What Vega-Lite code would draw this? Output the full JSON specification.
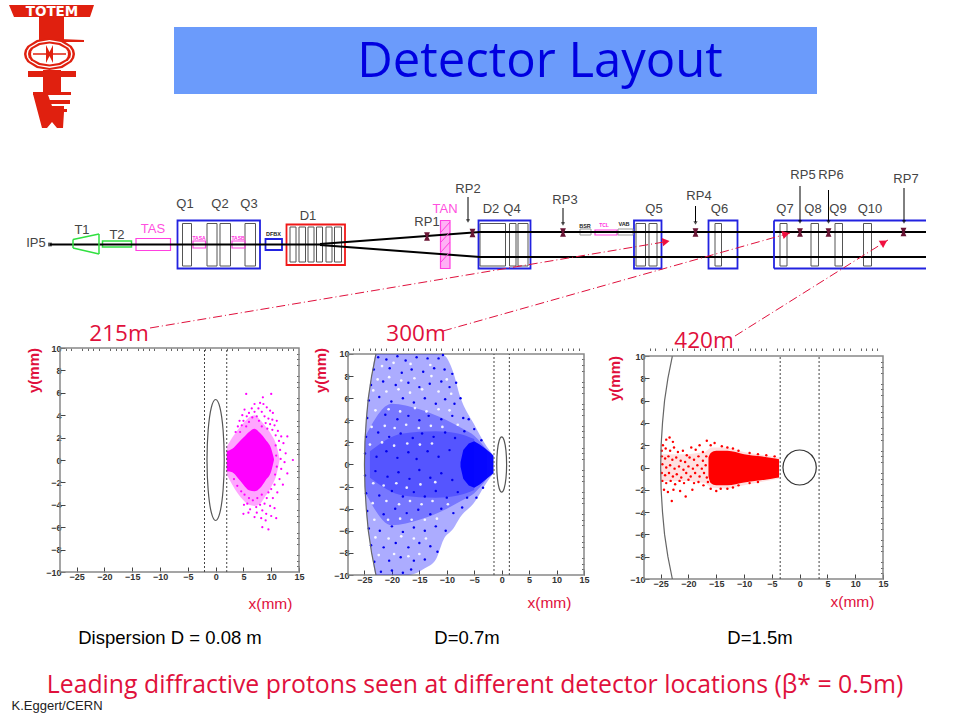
{"$schema":"https://vega.github.io/schema/vega-lite/v6.json","padding":0,"background":"white","spacing":3,"bounds":"flush","config":{"view":{"stroke":null},"font":"Liberation Sans"},
"vconcat":[
{"width":960,"height":345,"view":{"stroke":null},
"resolve":{"scale":{"strokeWidth":"independent"}},
"encoding":{"x":{"field":"x","type":"quantitative","axis":null,"scale":{"domain":[0,960],"nice":false,"zero":false}},"y":{"field":"y","type":"quantitative","axis":null,"scale":{"domain":[345,0],"nice":false,"zero":false}}},
"layer":[
{"data":{"values":[{"x":174,"x2":817,"y":27,"y2":94}]},"mark":{"type":"rect","fill":"#6b9bfb"},"encoding":{"x2":{"field":"x2"},"y2":{"field":"y2"}}},
{"data":{"values":[{"x":540,"y":62,"t":"Detector Layout"}]},"mark":{"type":"text","font":"Open Sans","fontSize":49,"fill":"#0000e0","align":"center","baseline":"middle"},"encoding":{"text":{"field":"t"}}},
{"data":{"values":[
{"p":"a","c":"r","x":9,"y":5,"y2":5},{"p":"a","c":"r","x":14,"y":5,"y2":17},{"p":"a","c":"r","x":90,"y":5,"y2":17},{"p":"a","c":"r","x":94,"y":5,"y2":5},
{"p":"b","c":"r","x":39,"y":17,"y2":40},{"p":"b","c":"r","x":64,"y":17,"y2":40},
{"p":"c","c":"r","x":60,"y":39,"y2":42},{"p":"c","c":"r","x":84,"y":40,"y2":42},
{"p":"d","c":"r","x":24,"y":54,"y2":54},{"p":"d","c":"r","x":24.8,"y":50,"y2":58},{"p":"d","c":"r","x":27.3,"y":46,"y2":62},{"p":"d","c":"r","x":36.8,"y":40,"y2":68},{"p":"d","c":"r","x":49.5,"y":38,"y2":70},{"p":"d","c":"r","x":62.3,"y":40,"y2":68},{"p":"d","c":"r","x":71.7,"y":46,"y2":62},{"p":"d","c":"r","x":74.2,"y":50,"y2":58},{"p":"d","c":"r","x":75,"y":54,"y2":54},
{"p":"e","c":"w","x":26.5,"y":54,"y2":54},{"p":"e","c":"w","x":27.2,"y":50.4,"y2":57.6},{"p":"e","c":"w","x":29.5,"y":47,"y2":61},{"p":"e","c":"w","x":38,"y":42,"y2":66},{"p":"e","c":"w","x":49.5,"y":40,"y2":68},{"p":"e","c":"w","x":61,"y":42,"y2":66},{"p":"e","c":"w","x":69.5,"y":47,"y2":61},{"p":"e","c":"w","x":71.8,"y":50.4,"y2":57.6},{"p":"e","c":"w","x":72.5,"y":54,"y2":54},
{"p":"f","c":"r","x":28,"y":54,"y2":54},{"p":"f","c":"r","x":28.6,"y":50.8,"y2":57.2},{"p":"f","c":"r","x":30.8,"y":47.8,"y2":60.2},{"p":"f","c":"r","x":38.8,"y":43.1,"y2":64.9},{"p":"f","c":"r","x":49.5,"y":41.5,"y2":66.5},{"p":"f","c":"r","x":60.2,"y":43.1,"y2":64.9},{"p":"f","c":"r","x":68.2,"y":47.8,"y2":60.2},{"p":"f","c":"r","x":70.4,"y":50.8,"y2":57.2},{"p":"f","c":"r","x":71,"y":54,"y2":54},
{"p":"g","c":"w","x":31,"y":54,"y2":54},{"p":"g","c":"w","x":31.5,"y":51.3,"y2":56.7},{"p":"g","c":"w","x":33,"y":48.8,"y2":59.2},{"p":"g","c":"w","x":40,"y":44.9,"y2":63.1},{"p":"g","c":"w","x":49.5,"y":43.5,"y2":64.5},{"p":"g","c":"w","x":59,"y":44.9,"y2":63.1},{"p":"g","c":"w","x":66,"y":48.8,"y2":59.2},{"p":"g","c":"w","x":67.5,"y":51.3,"y2":56.7},{"p":"g","c":"w","x":68,"y":54,"y2":54},
{"p":"h","c":"r","x":33,"y":53.3,"y2":54.8},{"p":"h","c":"r","x":66,"y":53.3,"y2":54.8},
{"p":"i","c":"r","x":46,"y":45,"y2":63},{"p":"i","c":"r","x":49.5,"y":52,"y2":56},{"p":"i","c":"r","x":53,"y":45,"y2":63},
{"p":"j","c":"r","x":28,"y":71,"y2":77},{"p":"j","c":"r","x":76,"y":71,"y2":77},
{"p":"k","c":"r","x":43,"y":70,"y2":93},{"p":"k","c":"r","x":61,"y":70,"y2":93},
{"p":"l","c":"r","x":33,"y":92,"y2":95},{"p":"l","c":"r","x":71,"y":92,"y2":95},
{"p":"m","c":"r","x":33,"y":92,"y2":94},{"p":"m","c":"r","x":42,"y":92,"y2":128},{"p":"m","c":"r","x":47,"y":92,"y2":128},{"p":"m","c":"r","x":52,"y":106,"y2":122},{"p":"m","c":"r","x":57,"y":106,"y2":128},{"p":"m","c":"r","x":63,"y":106,"y2":128},{"p":"m","c":"r","x":64,"y":106,"y2":112},
{"p":"n","c":"r","x":47,"y":100,"y2":104},{"p":"n","c":"r","x":70,"y":100,"y2":104},
{"p":"o","c":"r","x":47,"y":109,"y2":112},{"p":"o","c":"r","x":67,"y":109,"y2":112}
]},"mark":{"type":"area"},"encoding":{"y2":{"field":"y2"},"detail":{"field":"p"},"color":{"field":"c","legend":null,"scale":{"domain":["r","w"],"range":["#e0200f","#ffffff"]}}}},
{"data":{"values":[{"x":52,"y":11.5,"t":"TOTEM"}]},"mark":{"type":"text","font":"DejaVu Sans","fontSize":13.5,"fontWeight":"bold","fill":"white","align":"center","baseline":"middle"},"encoding":{"text":{"field":"t"}}},
{"data":{"values":[{"x":440.5,"x2":450,"y":220.5,"y2":268.5}]},"mark":{"type":"rect","fill":"#ffb0f5"},"encoding":{"x2":{"field":"x2"},"y2":{"field":"y2"}}},
{"data":{"values":[
{"k":"inner","x":182.5,"x2":191.5,"y":223.5,"y2":266},{"k":"inner","x":207,"x2":217,"y":223.5,"y2":266},{"k":"inner","x":220,"x2":230.5,"y":223.5,"y2":266},{"k":"inner","x":245,"x2":255.5,"y":223.5,"y2":266},
{"k":"inner","x":290,"x2":296,"y":227,"y2":262},{"k":"inner","x":299,"x2":305.5,"y":227,"y2":262},{"k":"inner","x":308,"x2":314,"y":227,"y2":262},{"k":"inner","x":316.5,"x2":322.5,"y":227,"y2":262},{"k":"inner","x":326,"x2":332,"y":227,"y2":262},{"k":"inner","x":334.5,"x2":341.5,"y":227,"y2":262},
{"k":"inner","x":480,"x2":505.5,"y":223.5,"y2":266},{"k":"inner","x":509.5,"x2":516,"y":223.5,"y2":266},{"k":"inner","x":518,"x2":528,"y":223.5,"y2":266},
{"k":"inner","x":636,"x2":645.5,"y":223.5,"y2":266},{"k":"inner","x":649,"x2":657,"y":223.5,"y2":266},{"k":"inner","x":715,"x2":721.5,"y":223.5,"y2":266},
{"k":"inner","x":780,"x2":787,"y":223.5,"y2":266},{"k":"inner","x":811,"x2":818.5,"y":223.5,"y2":266},{"k":"inner","x":835,"x2":842.5,"y":223.5,"y2":266},{"k":"inner","x":863.5,"x2":871.5,"y":223.5,"y2":266},
{"k":"blue","x":177.5,"x2":260,"y":220.5,"y2":268.5},{"k":"blue","x":265.5,"x2":282,"y":239,"y2":250},{"k":"blue","x":478.5,"x2":530.5,"y":220.5,"y2":268.5},{"k":"blue","x":634,"x2":661.5,"y":220.5,"y2":268.5},{"k":"blue","x":708.5,"x2":737.5,"y":220.5,"y2":268.5},
{"k":"red","x":286.5,"x2":345,"y":224.5,"y2":265},
{"k":"green","x":102.5,"x2":131.5,"y":241,"y2":247},
{"k":"magenta","x":136,"x2":170.5,"y":238.5,"y2":250.5},{"k":"magenta","x":193,"x2":205.5,"y":241,"y2":248},{"k":"magenta","x":232,"x2":245,"y":241,"y2":248},{"k":"magenta","x":440.5,"x2":450,"y":220.5,"y2":268.5},{"k":"magenta","x":595,"x2":617,"y":230,"y2":235},
{"k":"light","x":580,"x2":591,"y":229,"y2":235},{"k":"light","x":618,"x2":633,"y":229,"y2":235}
]},"mark":{"type":"rect","fillOpacity":0},"encoding":{"x2":{"field":"x2"},"y2":{"field":"y2"},"stroke":{"field":"k","legend":null,"scale":{"domain":["inner","blue","red","green","magenta","light","black"],"range":["#555555","#2222e0","#f01818","#30e040","#ff40e0","#999999","#000000"]}},"strokeWidth":{"field":"k","legend":null,"scale":{"type":"ordinal","domain":["inner","blue","red","green","magenta","light"],"range":[1,1.8,1.8,1.5,1.2,1]}}}},
{"data":{"values":[
{"k":"black","w":2,"x":50,"x2":322,"y":244.5,"y2":244.5},{"k":"black","w":2,"x":320,"x2":480,"y":244,"y2":232},{"k":"black","w":2,"x":320,"x2":480,"y":245,"y2":257},{"k":"black","w":2,"x":480,"x2":926,"y":232,"y2":232},{"k":"black","w":2,"x":480,"x2":926,"y":257,"y2":257},
{"k":"blue","w":1.8,"x":774,"x2":926,"y":220.5,"y2":220.5},{"k":"blue","w":1.8,"x":774,"x2":926,"y":268.5,"y2":268.5},{"k":"blue","w":1.8,"x":774,"x2":774,"y":220.5,"y2":268.5},
{"k":"green","w":1.5,"x":73,"x2":99,"y":239.5,"y2":234},{"k":"green","w":1.5,"x":99,"x2":99,"y":234,"y2":254},{"k":"green","w":1.5,"x":99,"x2":73,"y":254,"y2":248},{"k":"green","w":1.5,"x":73,"x2":73,"y":248,"y2":239.5},
{"k":"magenta","w":1,"x":441,"x2":450,"y":232,"y2":222},{"k":"magenta","w":1,"x":441,"x2":450,"y":242,"y2":232},{"k":"magenta","w":1,"x":441,"x2":450,"y":252,"y2":242},{"k":"magenta","w":1,"x":441,"x2":450,"y":262,"y2":252},
{"k":"black","w":1,"x":468,"x2":468,"y":197,"y2":220},{"k":"black","w":1,"x":563,"x2":563,"y":208,"y2":223},{"k":"black","w":1,"x":695.5,"x2":695.5,"y":206,"y2":222},{"k":"black","w":1,"x":800,"x2":800,"y":186,"y2":221},{"k":"black","w":1,"x":828.5,"x2":828.5,"y":190,"y2":221},{"k":"black","w":1,"x":904,"x2":904,"y":188,"y2":221}
]},"mark":{"type":"rule"},"encoding":{"x2":{"field":"x2"},"y2":{"field":"y2"},"strokeWidth":{"field":"w","scale":null},"stroke":{"field":"k","legend":null,"scale":{"domain":["inner","blue","red","green","magenta","light","black"],"range":["#555555","#2222e0","#f01818","#30e040","#ff40e0","#999999","#000000"]}}}},
{"data":{"values":[{"x":50,"y":244.5}]},"mark":{"type":"point","shape":"square","size":14,"filled":true,"color":"black"}},
{"data":{"values":[{"x":468,"y":221},{"x":563,"y":224},{"x":695.5,"y":223},{"x":800,"y":222},{"x":828.5,"y":222},{"x":904,"y":222}]},"mark":{"type":"point","shape":"triangle-down","size":18,"filled":true,"color":"black"}},
{"data":{"values":[{"x":427,"y":236.5},{"x":472.5,"y":233},{"x":563,"y":232.5},{"x":695.5,"y":232.5},{"x":800,"y":232.5},{"x":828.5,"y":232.5},{"x":903.5,"y":232}]},"mark":{"type":"point","shape":"M-0.7,-1L0.7,-1L0.25,0L0.7,1L-0.7,1L-0.25,0Z","size":70,"filled":true,"color":"#6a1535","opacity":1}},
{"data":{"values":[
{"x":36,"y":243,"t":"IP5"},{"x":82,"y":230,"t":"T1"},{"x":117,"y":235,"t":"T2"},{"x":185,"y":204,"t":"Q1"},{"x":220,"y":204,"t":"Q2"},{"x":249,"y":204,"t":"Q3"},{"x":308,"y":216,"t":"D1"},{"x":427,"y":222,"t":"RP1"},{"x":468,"y":189,"t":"RP2"},{"x":491,"y":209,"t":"D2"},{"x":512,"y":209,"t":"Q4"},{"x":565,"y":200,"t":"RP3"},{"x":654,"y":209,"t":"Q5"},{"x":699,"y":196,"t":"RP4"},{"x":719.5,"y":209,"t":"Q6"},{"x":785,"y":209,"t":"Q7"},{"x":813,"y":209,"t":"Q8"},{"x":838,"y":209,"t":"Q9"},{"x":870,"y":209,"t":"Q10"},{"x":803,"y":175,"t":"RP5"},{"x":831,"y":175,"t":"RP6"},{"x":906,"y":179,"t":"RP7"}
]},"mark":{"type":"text","align":"center","baseline":"middle","fontSize":13,"fill":"#444444"},"encoding":{"text":{"field":"t"}}},
{"data":{"values":[{"x":153,"y":229,"t":"TAS"},{"x":445,"y":209,"t":"TAN"}]},"mark":{"type":"text","align":"center","baseline":"middle","fontSize":13,"fill":"#ff50e0"},"encoding":{"text":{"field":"t"}}},
{"data":{"values":[{"x":273.5,"y":234,"t":"DFBX"},{"x":585,"y":226,"t":"BSR"},{"x":624,"y":224,"t":"VAB"}]},"mark":{"type":"text","align":"center","baseline":"middle","fontSize":5.5,"fontWeight":"bold","fill":"#222222"},"encoding":{"text":{"field":"t"}}},
{"data":{"values":[{"x":199,"y":238,"t":"TASA"},{"x":238,"y":238,"t":"TASB"},{"x":604,"y":225,"t":"TCL"}]},"mark":{"type":"text","align":"center","baseline":"middle","fontSize":5,"fontWeight":"bold","fill":"#ff30e0"},"encoding":{"text":{"field":"t"}}},
{"data":{"values":[{"r":"a","x":150,"x2":670,"y":328,"y2":241},{"r":"b","x":443,"x2":790,"y":331,"y2":233},{"r":"c","x":735,"x2":888,"y":336,"y2":240}]},"mark":{"type":"rule","strokeDash":[9,3,1,3],"strokeWidth":1,"color":"#e0103c"},"encoding":{"x2":{"field":"x2"},"y2":{"field":"y2"}}},
{"data":{"values":[{"x":666,"y":241.5,"a":-9.5},{"x":786,"y":234,"a":-15.8},{"x":884,"y":242.5,"a":-32}]},"mark":{"type":"point","shape":"triangle-right","size":70,"filled":true,"color":"#f01040","opacity":1},"encoding":{"angle":{"field":"a","type":"quantitative","scale":null}}},
{"data":{"values":[{"x":119,"y":334,"t":"215m"},{"x":416,"y":334,"t":"300m"},{"x":704,"y":341,"t":"420m"}]},"mark":{"type":"text","font":"Open Sans","fontSize":22.5,"fill":"#e0103c","align":"center","baseline":"middle"},"encoding":{"text":{"field":"t"}}}
]},
{"hconcat":[
{"width":60,"height":10,"data":{"values":[{}]},"mark":{"type":"point","opacity":0},"encoding":{}},
{"width":239,"height":224,"encoding":{"x":{"field":"x","type":"quantitative","axis":null,"scale":{"domain":[-28,15],"nice":false,"zero":false}},"y":{"field":"y","type":"quantitative","axis":null,"scale":{"domain":[-10,10],"nice":false,"zero":false}}},"resolve":{"axis":{"x":"independent","y":"independent"}},
"layer":[
{"data":{"values":[{"x":-28,"x2":15,"y":-10,"y2":10}]},"mark":{"type":"rect","fillOpacity":0,"stroke":"#888888","strokeWidth":1.5},"encoding":{"x2":{"field":"x2"},"y2":{"field":"y2"},
"x":{"field":"x","type":"quantitative","scale":{"domain":[-28,15],"nice":false,"zero":false},"axis":{"values":[-25,-20,-15,-10,-5,0,5,10,15],"domain":false,"grid":false,"title":"x(mm)","tickSize":-5,"tickColor":"#444444","labelFont":"Liberation Sans","labelFontSize":9,"labelFontWeight":"bold","labelColor":"#333333","labelPadding":5,"labelOverlap":false,"labelBound":false,"labelFlush":false,"titleFont":"Liberation Sans","titleFontSize":15.5,"titleFontWeight":"normal","titleColor":"#e0103c","titleX":210,"titleY":24,"titleAlign":"center"}},
"y":{"field":"y","type":"quantitative","scale":{"domain":[-10,10],"nice":false,"zero":false},"axis":{"values":[-10,-8,-6,-4,-2,0,2,4,6,8,10],"domain":false,"grid":false,"title":"y(mm)","tickSize":-5,"tickColor":"#444444","labelFont":"Liberation Sans","labelFontSize":9,"labelFontWeight":"bold","labelColor":"#333333","labelPadding":4,"labelOverlap":false,"labelBound":false,"labelFlush":false,"titleFont":"Liberation Sans","titleFontSize":15,"titleFontWeight":"bold","titleColor":"#e0103c","titleX":-19,"titleY":22,"titleAlign":"center"}}}},
{"data":{"values":[{"x":2,"y":-1.3,"y2":1.2},{"x":3,"y":-2.2,"y2":2},{"x":4,"y":-3,"y2":2.7},{"x":5,"y":-3.6,"y2":3.3},{"x":6,"y":-4,"y2":3.8},{"x":7,"y":-4.1,"y2":4},{"x":8,"y":-3.9,"y2":3.6},{"x":9,"y":-3.2,"y2":3},{"x":10,"y":-2.4,"y2":2.3},{"x":11,"y":-1.2,"y2":1.2},{"x":11.5,"y":0,"y2":0.1}]},"mark":{"type":"area","interpolate":"monotone","color":"#ff00ff","opacity":0.35},"encoding":{"y2":{"field":"y2"}}},
{"data":{"values":[{"x":2,"y":-1,"y2":0.8},{"x":3,"y":-1.1,"y2":1},{"x":4,"y":-1.6,"y2":1.5},{"x":5,"y":-2.2,"y2":2},{"x":6,"y":-2.7,"y2":2.5},{"x":7,"y":-2.8,"y2":2.8},{"x":8,"y":-2.5,"y2":2.4},{"x":9,"y":-1.8,"y2":1.8},{"x":10,"y":-1,"y2":1},{"x":10.5,"y":0,"y2":0.1}]},"mark":{"type":"area","interpolate":"monotone","color":"#ff00ff","opacity":1},"encoding":{"y2":{"field":"y2"}}},
{"data":{"values":[{"x":5.5,"y":5.9},{"x":10,"y":5.9},{"x":8.5,"y":5.6},{"x":8,"y":5.1},{"x":7,"y":5},{"x":8.6,"y":5},{"x":6.5,"y":4.6},{"x":7.7,"y":4.6},{"x":9.2,"y":4.7},{"x":5.2,"y":4.5},{"x":6,"y":4.2},{"x":7,"y":4.3},{"x":8.3,"y":4.3},{"x":9.8,"y":4.4},{"x":10.3,"y":4.2},{"x":4.8,"y":4},{"x":5.6,"y":3.9},{"x":6.6,"y":3.8},{"x":7.4,"y":3.9},{"x":8.8,"y":3.9},{"x":9.5,"y":3.7},{"x":10.2,"y":3.6},{"x":11,"y":3.5},{"x":4.3,"y":3.5},{"x":5,"y":3.5},{"x":6,"y":3.4},{"x":7.8,"y":3.5},{"x":9,"y":3.3},{"x":9.8,"y":3.2},{"x":10.6,"y":3.1},{"x":4,"y":3},{"x":4.7,"y":3.1},{"x":5.5,"y":3},{"x":8.3,"y":3},{"x":9.3,"y":2.8},{"x":10.2,"y":2.7},{"x":11.2,"y":2.6},{"x":3.6,"y":2.5},{"x":4.4,"y":2.5},{"x":11.8,"y":2.1},{"x":12.9,"y":2.1},{"x":10.8,"y":2.2},{"x":11.4,"y":1.7},{"x":12.2,"y":1.5},{"x":10.8,"y":1.3},{"x":11.6,"y":0.9},{"x":12.6,"y":0.6},{"x":10.9,"y":0.4},{"x":11.7,"y":0.1},{"x":13.9,"y":0},{"x":12.4,"y":-0.2},{"x":11,"y":-0.6},{"x":11.8,"y":-0.8},{"x":12.9,"y":-1.2},{"x":10.7,"y":-1.3},{"x":11.5,"y":-1.7},{"x":12.1,"y":-2.2},{"x":10.6,"y":-2.2},{"x":11.1,"y":-2.9},{"x":10,"y":-2.6},{"x":9.5,"y":-2.9},{"x":10.3,"y":-3.4},{"x":9.2,"y":-3.4},{"x":8.3,"y":-3.1},{"x":7.5,"y":-3.4},{"x":8.8,"y":-3.9},{"x":9.8,"y":-4.1},{"x":10.6,"y":-4.3},{"x":8,"y":-4},{"x":7.3,"y":-4.2},{"x":6.7,"y":-3.6},{"x":6,"y":-3.4},{"x":5.2,"y":-3.1},{"x":4.6,"y":-2.8},{"x":3.9,"y":-2.3},{"x":3.3,"y":-1.7},{"x":5.7,"y":-3.9},{"x":6.2,"y":-4.4},{"x":7.4,"y":-4.7},{"x":8.4,"y":-4.5},{"x":9.1,"y":-4.8},{"x":5.1,"y":-4},{"x":5.9,"y":-4.7},{"x":10.9,"y":-5.2},{"x":10,"y":-5},{"x":7,"y":-5.1},{"x":8.2,"y":-5.2},{"x":9,"y":-5.4},{"x":8.4,"y":-6},{"x":9.5,"y":-6.2},{"x":5,"y":-4.8}]},"mark":{"type":"circle","size":5,"color":"#ff00ff","opacity":1}},
{"data":{"values":[{"i":0,"x":1.55,"y":0},{"i":1,"x":1.34,"y":2.7},{"i":2,"x":0.78,"y":4.68},{"i":3,"x":0,"y":5.4},{"i":4,"x":-0.78,"y":4.68},{"i":5,"x":-1.34,"y":2.7},{"i":6,"x":-1.55,"y":0},{"i":7,"x":-1.34,"y":-2.7},{"i":8,"x":-0.78,"y":-4.68},{"i":9,"x":0,"y":-5.4},{"i":10,"x":0.78,"y":-4.68},{"i":11,"x":1.34,"y":-2.7}]},"mark":{"type":"line","interpolate":"cardinal-closed","color":"#555555","strokeWidth":1.2},"encoding":{"order":{"field":"i"}}},
{"data":{"values":[{"x":-2,"y":-10,"y2":10},{"x":2,"y":-10,"y2":10}]},"mark":{"type":"rule","strokeDash":[2,2],"color":"#444444","strokeWidth":1},"encoding":{"y2":{"field":"y2"},
"x":{"field":"x","type":"quantitative","scale":{"domain":[-28,15],"nice":false,"zero":false},"axis":{"values":[-27,-26,-24,-23,-22,-21,-19,-18,-17,-16,-14,-13,-12,-11,-9,-8,-7,-6,-4,-3,-2,-1,1,2,3,4,6,7,8,9,11,12,13,14],"domain":false,"grid":false,"labels":false,"title":null,"tickSize":-2.5,"tickColor":"#666666"}},
"y":{"field":"y","type":"quantitative","scale":{"domain":[-10,10],"nice":false,"zero":false},"axis":{"values":[-9.5,-9,-8.5,-7.5,-7,-6.5,-5.5,-5,-4.5,-3.5,-3,-2.5,-1.5,-1,-0.5,0.5,1,1.5,2.5,3,3.5,4.5,5,5.5,6.5,7,7.5,8.5,9,9.5],"domain":false,"grid":false,"labels":false,"title":null,"tickSize":-2.5,"tickColor":"#666666"}}}}
]},
{"width":49,"height":10,"data":{"values":[{}]},"mark":{"type":"point","opacity":0},"encoding":{}},
{"width":236,"height":227,"encoding":{"x":{"field":"x","type":"quantitative","axis":null,"scale":{"domain":[-28,15],"nice":false,"zero":false}},"y":{"field":"y","type":"quantitative","axis":null,"scale":{"domain":[-10,10.54],"nice":false,"zero":false}}},"resolve":{"axis":{"x":"independent","y":"independent"}},
"layer":[
{"data":{"values":[{"x":-28,"x2":15,"y":-10,"y2":10}]},"mark":{"type":"rect","fillOpacity":0,"stroke":"#888888","strokeWidth":1.5},"encoding":{"x2":{"field":"x2"},"y2":{"field":"y2"},
"x":{"field":"x","type":"quantitative","scale":{"domain":[-28,15],"nice":false,"zero":false},"axis":{"values":[-25,-20,-15,-10,-5,0,5,10,15],"domain":false,"grid":false,"title":"x(mm)","tickSize":-5,"tickColor":"#444444","labelFont":"Liberation Sans","labelFontSize":9,"labelFontWeight":"bold","labelColor":"#333333","labelPadding":5,"labelOverlap":false,"labelBound":false,"labelFlush":false,"titleFont":"Liberation Sans","titleFontSize":15.5,"titleFontWeight":"normal","titleColor":"#e0103c","titleX":201,"titleY":20,"titleAlign":"center"}},
"y":{"field":"y","type":"quantitative","scale":{"domain":[-10,10.54],"nice":false,"zero":false},"axis":{"values":[-10,-8,-6,-4,-2,0,2,4,6,8,10],"domain":false,"grid":false,"title":"y(mm)","tickSize":-5,"tickColor":"#444444","labelFont":"Liberation Sans","labelFontSize":9,"labelFontWeight":"bold","labelColor":"#333333","labelPadding":4,"labelOverlap":false,"labelBound":false,"labelFlush":false,"titleFont":"Liberation Sans","titleFontSize":15,"titleFontWeight":"bold","titleColor":"#e0103c","titleX":-20,"titleY":22,"titleAlign":"center"}}}},
{"data":{"values":[
{"b":"a","x":-24.9,"y":-2,"y2":2},{"b":"a","x":-24.7,"y":-4,"y2":4},{"b":"a","x":-24.3,"y":-6,"y2":6},{"b":"a","x":-23.7,"y":-8,"y2":8},{"b":"a","x":-22.9,"y":-10,"y2":10},{"b":"a","x":-17,"y":-10,"y2":10},{"b":"a","x":-14,"y":-9.4,"y2":10},{"b":"a","x":-12,"y":-8.6,"y2":10},{"b":"a","x":-10.6,"y":-6.8,"y2":9.9},{"b":"a","x":-8.8,"y":-5.8,"y2":8.3},{"b":"a","x":-7.6,"y":-4.8,"y2":6.2},{"b":"a","x":-5.1,"y":-3.5,"y2":3.7},{"b":"a","x":-2.7,"y":-1.6,"y2":1.6},{"b":"a","x":-1.5,"y":-0.8,"y2":0.8},
{"b":"b","x":-24.9,"y":-2.5,"y2":2.5},{"b":"b","x":-20,"y":-5.5,"y2":5.5},{"b":"b","x":-15,"y":-5,"y2":5},{"b":"b","x":-10,"y":-4,"y2":4},{"b":"b","x":-7,"y":-3.2,"y2":3.2},{"b":"b","x":-5,"y":-2.6,"y2":2.6},{"b":"b","x":-2.7,"y":-1.3,"y2":1.3},
{"b":"c","x":-24,"y":-1.2,"y2":1.2},{"b":"c","x":-18,"y":-2.8,"y2":2.8},{"b":"c","x":-12,"y":-3,"y2":3},{"b":"c","x":-8,"y":-2.8,"y2":2.8},{"b":"c","x":-5,"y":-2.3,"y2":2.3}
]},"mark":{"type":"area","interpolate":"monotone","color":"#1a1aff","opacity":0.36},"encoding":{"y2":{"field":"y2"},"detail":{"field":"b"}}},
{"data":{"values":[{"x":-7.5,"y":-0.2,"y2":0.2},{"x":-7,"y":-1.3,"y2":1.3},{"x":-6,"y":-1.9,"y2":1.9},{"x":-5,"y":-2.1,"y2":2.1},{"x":-4,"y":-1.8,"y2":1.8},{"x":-3,"y":-1.4,"y2":1.45},{"x":-2,"y":-1,"y2":1.05},{"x":-1.5,"y":-0.8,"y2":0.8}]},"mark":{"type":"area","color":"#0000ff","opacity":0.95},"encoding":{"y2":{"field":"y2"}}},
{"data":{"values":[{"x":-21.8,"y":8.9},{"x":-19.7,"y":9.2},{"x":-16.6,"y":9.1},{"x":-13,"y":9},{"x":-22.6,"y":7.7},{"x":-20.5,"y":7.9},{"x":-18.3,"y":7.6},{"x":-15.9,"y":7.8},{"x":-12.8,"y":8},{"x":-10,"y":7.7},{"x":-23.4,"y":6.7},{"x":-21,"y":6.6},{"x":-18.8,"y":6.8},{"x":-16.7,"y":6.5},{"x":-14.5,"y":6.8},{"x":-11.5,"y":6.6},{"x":-9.2,"y":6.4},{"x":-23,"y":4.9},{"x":-20.6,"y":5},{"x":-18.5,"y":4.8},{"x":-15.8,"y":5.1},{"x":-13.7,"y":4.8},{"x":-11.5,"y":5},{"x":-9.5,"y":4.9},{"x":-23.7,"y":3.4},{"x":-21.3,"y":3.5},{"x":-19.5,"y":3.3},{"x":-17.4,"y":3.6},{"x":-15.1,"y":3.3},{"x":-12.9,"y":3.5},{"x":-10.8,"y":3.4},{"x":-8,"y":3.6},{"x":-24,"y":1.8},{"x":-21.8,"y":2},{"x":-19.6,"y":1.7},{"x":-17.2,"y":1.9},{"x":-14.9,"y":1.8},{"x":-12.7,"y":1.9},{"x":-23.4,"y":-1.7},{"x":-21.5,"y":-1.9},{"x":-19.2,"y":-1.7},{"x":-17.3,"y":-2.1},{"x":-14.8,"y":-1.8},{"x":-12.1,"y":-1.6},{"x":-23.5,"y":-3.5},{"x":-21,"y":-3.3},{"x":-18.7,"y":-3.6},{"x":-16.7,"y":-3.3},{"x":-14.6,"y":-3.6},{"x":-12.6,"y":-3.3},{"x":-9.8,"y":-3.6},{"x":-23.2,"y":-5},{"x":-20.7,"y":-5},{"x":-18.5,"y":-4.9},{"x":-16.4,"y":-5},{"x":-14,"y":-5},{"x":-11.8,"y":-4.9},{"x":-23,"y":-6.6},{"x":-20.6,"y":-6.7},{"x":-18.3,"y":-6.5},{"x":-16,"y":-6.7},{"x":-13.8,"y":-6.7},{"x":-22.4,"y":-8.2},{"x":-19.6,"y":-8.1},{"x":-17,"y":-8.3},{"x":-15,"y":-8.1}]},"mark":{"type":"circle","size":7,"color":"#ffffff","opacity":0.9}},
{"data":{"values":[{"x":-22.5,"y":9.7},{"x":-21,"y":9.5},{"x":-19,"y":9.8},{"x":-17.5,"y":9.4},{"x":-15.5,"y":9.7},{"x":-13.5,"y":9.6},{"x":-11.5,"y":9.6},{"x":-10.7,"y":9.9},{"x":-23.3,"y":8.6},{"x":-20.4,"y":8.7},{"x":-18.2,"y":8.3},{"x":-16.4,"y":8.6},{"x":-14.3,"y":8.4},{"x":-12.3,"y":8.7},{"x":-10.4,"y":8.6},{"x":-9,"y":8.2},{"x":-23.8,"y":7.2},{"x":-21.6,"y":7.5},{"x":-19.3,"y":7.2},{"x":-17,"y":7.4},{"x":-15,"y":7},{"x":-13.1,"y":7.3},{"x":-11,"y":7.5},{"x":-9.5,"y":7},{"x":-8.3,"y":7.4},{"x":-24.2,"y":5.8},{"x":-22.3,"y":6.1},{"x":-20.1,"y":5.7},{"x":-18,"y":6},{"x":-16,"y":5.6},{"x":-14,"y":6},{"x":-12,"y":5.5},{"x":-10.3,"y":5.9},{"x":-8.6,"y":5.5},{"x":-7.5,"y":6},{"x":-24.5,"y":4.2},{"x":-21.2,"y":4.5},{"x":-19,"y":4.1},{"x":-17,"y":4.4},{"x":-15,"y":4},{"x":-13.3,"y":4.4},{"x":-11,"y":4.1},{"x":-9,"y":4.4},{"x":-7,"y":4.2},{"x":-6,"y":4.1},{"x":-24.7,"y":2.5},{"x":-22.5,"y":2.9},{"x":-20.5,"y":2.5},{"x":-18.4,"y":2.8},{"x":-16.2,"y":2.4},{"x":-14.5,"y":2.8},{"x":-12.4,"y":2.5},{"x":-10.3,"y":2.9},{"x":-8.5,"y":2.4},{"x":-6.8,"y":3},{"x":-5,"y":3.2},{"x":-3.7,"y":2.2},{"x":-24.9,"y":1},{"x":-22.8,"y":0.7},{"x":-21,"y":1.2},{"x":-19,"y":0.6},{"x":-17,"y":1.1},{"x":-15.5,"y":0.5},{"x":-13.5,"y":1.2},{"x":-11.5,"y":0.7},{"x":-9.5,"y":1.3},{"x":-24.9,"y":-1},{"x":-23,"y":-0.6},{"x":-20.8,"y":-1.1},{"x":-18.8,"y":-0.7},{"x":-16.8,"y":-1.3},{"x":-15,"y":-0.5},{"x":-13,"y":-1.2},{"x":-11,"y":-0.8},{"x":-9,"y":-1.4},{"x":-24.7,"y":-2.6},{"x":-22.3,"y":-2.8},{"x":-20,"y":-2.4},{"x":-18,"y":-2.9},{"x":-16,"y":-2.5},{"x":-14,"y":-2.9},{"x":-12,"y":-2.4},{"x":-10,"y":-3},{"x":-8,"y":-2.5},{"x":-6.3,"y":-3},{"x":-4.6,"y":-3},{"x":-3.4,"y":-2.1},{"x":-24.5,"y":-4.2},{"x":-21.5,"y":-4.5},{"x":-19.4,"y":-4},{"x":-17.3,"y":-4.4},{"x":-15.2,"y":-4.1},{"x":-13,"y":-4.5},{"x":-11,"y":-4},{"x":-8.8,"y":-4.4},{"x":-7.2,"y":-3.9},{"x":-24.2,"y":-5.8},{"x":-22.2,"y":-6},{"x":-20,"y":-5.6},{"x":-18,"y":-6.1},{"x":-16,"y":-5.7},{"x":-14,"y":-6},{"x":-12,"y":-5.6},{"x":-10.2,"y":-6},{"x":-23.8,"y":-7.3},{"x":-21.5,"y":-7.5},{"x":-19.3,"y":-7.1},{"x":-17,"y":-7.5},{"x":-15,"y":-7.1},{"x":-13,"y":-7.4},{"x":-11.7,"y":-7.9},{"x":-23.2,"y":-8.8},{"x":-20.5,"y":-8.7},{"x":-18.4,"y":-8.4},{"x":-16,"y":-8.7},{"x":-14,"y":-8.6},{"x":-22,"y":-9.7},{"x":-20,"y":-9.6},{"x":-18,"y":-9.8},{"x":-16.5,"y":-9.5}]},"mark":{"type":"circle","size":6,"color":"#0000ee","opacity":1}},
{"data":{"values":[{"i":0,"x":-22.9,"y":-10},{"i":1,"x":-23.7,"y":-8},{"i":2,"x":-24.3,"y":-6},{"i":3,"x":-24.67,"y":-4},{"i":4,"x":-24.92,"y":-2},{"i":5,"x":-25,"y":0},{"i":6,"x":-24.92,"y":2},{"i":7,"x":-24.67,"y":4},{"i":8,"x":-24.3,"y":6},{"i":9,"x":-23.7,"y":8},{"i":10,"x":-22.9,"y":10}]},"mark":{"type":"line","color":"#666666","strokeWidth":1.2},"encoding":{"order":{"field":"i"}}},
{"data":{"values":[{"i":0,"x":0.9,"y":0},{"i":1,"x":0.78,"y":1.25},{"i":2,"x":0.45,"y":2.17},{"i":3,"x":0,"y":2.5},{"i":4,"x":-0.45,"y":2.17},{"i":5,"x":-0.78,"y":1.25},{"i":6,"x":-0.9,"y":0},{"i":7,"x":-0.78,"y":-1.25},{"i":8,"x":-0.45,"y":-2.17},{"i":9,"x":0,"y":-2.5},{"i":10,"x":0.45,"y":-2.17},{"i":11,"x":0.78,"y":-1.25}]},"mark":{"type":"line","interpolate":"cardinal-closed","color":"#555555","strokeWidth":1.2},"encoding":{"order":{"field":"i"}}},
{"data":{"values":[{"x":-1.4,"y":-10,"y2":10},{"x":1.4,"y":-10,"y2":10}]},"mark":{"type":"rule","strokeDash":[2,2],"color":"#444444","strokeWidth":1},"encoding":{"y2":{"field":"y2"},
"x":{"field":"x","type":"quantitative","scale":{"domain":[-28,15],"nice":false,"zero":false},"axis":{"values":[-27,-26,-24,-23,-22,-21,-19,-18,-17,-16,-14,-13,-12,-11,-9,-8,-7,-6,-4,-3,-2,-1,1,2,3,4,6,7,8,9,11,12,13,14],"domain":false,"grid":false,"labels":false,"title":null,"tickSize":-2.5,"tickColor":"#666666"}},
"y":{"field":"y","type":"quantitative","scale":{"domain":[-10,10.54],"nice":false,"zero":false},"axis":{"values":[-9.5,-9,-8.5,-7.5,-7,-6.5,-5.5,-5,-4.5,-3.5,-3,-2.5,-1.5,-1,-0.5,0.5,1,1.5,2.5,3,3.5,4.5,5,5.5,6.5,7,7.5,8.5,9,9.5],"domain":false,"grid":false,"labels":false,"title":null,"tickSize":-2.5,"tickColor":"#666666"}}}}
]},
{"width":60,"height":10,"data":{"values":[{}]},"mark":{"type":"point","opacity":0},"encoding":{}},
{"width":239,"height":231,"encoding":{"x":{"field":"x","type":"quantitative","axis":null,"scale":{"domain":[-28,15],"nice":false,"zero":false}},"y":{"field":"y","type":"quantitative","axis":null,"scale":{"domain":[-10,10.72],"nice":false,"zero":false}}},"resolve":{"axis":{"x":"independent","y":"independent"}},
"layer":[
{"data":{"values":[{"x":-28,"x2":15,"y":-10,"y2":10}]},"mark":{"type":"rect","fillOpacity":0,"stroke":"#888888","strokeWidth":1.5},"encoding":{"x2":{"field":"x2"},"y2":{"field":"y2"},
"x":{"field":"x","type":"quantitative","scale":{"domain":[-28,15],"nice":false,"zero":false},"axis":{"values":[-25,-20,-15,-10,-5,0,5,10,15],"domain":false,"grid":false,"title":"x(mm)","tickSize":-5,"tickColor":"#444444","labelFont":"Liberation Sans","labelFontSize":9,"labelFontWeight":"bold","labelColor":"#333333","labelPadding":5,"labelOverlap":false,"labelBound":false,"labelFlush":false,"titleFont":"Liberation Sans","titleFontSize":15.5,"titleFontWeight":"normal","titleColor":"#e0103c","titleX":208,"titleY":15,"titleAlign":"center"}},
"y":{"field":"y","type":"quantitative","scale":{"domain":[-10,10.72],"nice":false,"zero":false},"axis":{"values":[-10,-8,-6,-4,-2,0,2,4,6,8,10],"domain":false,"grid":false,"title":"y(mm)","tickSize":-5,"tickColor":"#444444","labelFont":"Liberation Sans","labelFontSize":9,"labelFontWeight":"bold","labelColor":"#333333","labelPadding":4,"labelOverlap":false,"labelBound":false,"labelFlush":false,"titleFont":"Liberation Sans","titleFontSize":15,"titleFontWeight":"bold","titleColor":"#e0103c","titleX":-22,"titleY":30,"titleAlign":"center"}}}},
{"data":{"values":[{"x":-25,"y":-1.2,"y2":1.2},{"x":-20,"y":-1.2,"y2":1.2},{"x":-17,"y":-1.4,"y2":1.4},{"x":-16,"y":-1.8,"y2":1.8},{"x":-13,"y":-1.9,"y2":1.8},{"x":-10,"y":-1.6,"y2":1.4},{"x":-7,"y":-1.3,"y2":1.15},{"x":-3.7,"y":-1,"y2":0.9}]},"mark":{"type":"area","color":"#ff0000","opacity":0.12},"encoding":{"y2":{"field":"y2"}}},
{"data":{"values":[{"x":-16.4,"y":-0.8,"y2":0.9},{"x":-16,"y":-1.4,"y2":1.3},{"x":-15,"y":-1.6,"y2":1.5},{"x":-13,"y":-1.6,"y2":1.5},{"x":-10,"y":-1.35,"y2":1.2},{"x":-7,"y":-1.15,"y2":1},{"x":-5,"y":-1,"y2":0.85},{"x":-3.7,"y":-0.9,"y2":0.75}]},"mark":{"type":"area","interpolate":"monotone","color":"#ff0000","opacity":1},"encoding":{"y2":{"field":"y2"}}},
{"data":{"values":[{"x":-24.6,"y":2},{"x":-24,"y":2.5},{"x":-23.4,"y":2.7},{"x":-22.8,"y":2.3},{"x":-24.8,"y":1.5},{"x":-24.1,"y":1.7},{"x":-23.3,"y":1.5},{"x":-22.6,"y":1.8},{"x":-21.9,"y":1.4},{"x":-21,"y":1.5},{"x":-20.3,"y":1.1},{"x":-19.5,"y":1.8},{"x":-18.7,"y":1.6},{"x":-18,"y":2},{"x":-17.4,"y":1.4},{"x":-16.7,"y":2.4},{"x":-16,"y":2},{"x":-15.3,"y":2.2},{"x":-14,"y":1.9},{"x":-13,"y":1.8},{"x":-12,"y":1.7},{"x":-11,"y":1.5},{"x":-24.8,"y":1},{"x":-24.2,"y":0.8},{"x":-23.6,"y":1},{"x":-22.9,"y":0.7},{"x":-22.2,"y":0.9},{"x":-21.4,"y":0.6},{"x":-20.6,"y":0.5},{"x":-19.8,"y":0.9},{"x":-19,"y":0.7},{"x":-18.2,"y":1},{"x":-17.4,"y":0.6},{"x":-16.8,"y":1},{"x":-24.7,"y":0.3},{"x":-24,"y":0},{"x":-23.3,"y":0.2},{"x":-22.5,"y":-0.1},{"x":-21.7,"y":0.1},{"x":-20.9,"y":-0.2},{"x":-20,"y":0.1},{"x":-19.2,"y":-0.1},{"x":-18.4,"y":0.2},{"x":-17.6,"y":-0.1},{"x":-16.9,"y":0.2},{"x":-24.8,"y":-0.5},{"x":-24.2,"y":-0.7},{"x":-23.5,"y":-0.5},{"x":-22.8,"y":-0.8},{"x":-22.1,"y":-0.6},{"x":-21.3,"y":-0.9},{"x":-20.4,"y":-0.5},{"x":-19.6,"y":-0.8},{"x":-18.8,"y":-0.5},{"x":-18,"y":-0.8},{"x":-17.2,"y":-0.5},{"x":-16.7,"y":-0.9},{"x":-24.7,"y":-1.2},{"x":-24,"y":-1.4},{"x":-23.2,"y":-1.2},{"x":-22.4,"y":-1.5},{"x":-21.6,"y":-1.2},{"x":-20.8,"y":-1.4},{"x":-20,"y":-1.1},{"x":-19,"y":-1.4},{"x":-18.2,"y":-1.3},{"x":-17.3,"y":-1.6},{"x":-16.5,"y":-1.3},{"x":-24.4,"y":-2},{"x":-23.7,"y":-2.2},{"x":-22.7,"y":-2},{"x":-21.5,"y":-2.1},{"x":-20.5,"y":-2.6},{"x":-19.3,"y":-2},{"x":-16,"y":-1.9},{"x":-15,"y":-2.1},{"x":-14.2,"y":-1.9},{"x":-13,"y":-1.9},{"x":-12,"y":-1.8},{"x":-11,"y":-1.6},{"x":-9,"y":-1.4},{"x":-7.5,"y":-1.3},{"x":-23,"y":-3},{"x":-9,"y":1.3},{"x":-7.5,"y":1.2},{"x":-6,"y":1.1},{"x":-4.5,"y":1}]},"mark":{"type":"circle","size":6,"color":"#ff0000","opacity":1}},
{"data":{"values":[{"i":0,"x":-22.9,"y":-10},{"i":1,"x":-23.7,"y":-8},{"i":2,"x":-24.3,"y":-6},{"i":3,"x":-24.67,"y":-4},{"i":4,"x":-24.92,"y":-2},{"i":5,"x":-25,"y":0},{"i":6,"x":-24.92,"y":2},{"i":7,"x":-24.67,"y":4},{"i":8,"x":-24.3,"y":6},{"i":9,"x":-23.7,"y":8},{"i":10,"x":-22.9,"y":10}]},"mark":{"type":"line","color":"#666666","strokeWidth":1.2},"encoding":{"order":{"field":"i"}}},
{"data":{"values":[{"i":0,"x":3,"y":0},{"i":1,"x":2.6,"y":0.79},{"i":2,"x":1.5,"y":1.36},{"i":3,"x":0,"y":1.57},{"i":4,"x":-1.5,"y":1.36},{"i":5,"x":-2.6,"y":0.79},{"i":6,"x":-3,"y":0},{"i":7,"x":-2.6,"y":-0.79},{"i":8,"x":-1.5,"y":-1.36},{"i":9,"x":0,"y":-1.57},{"i":10,"x":1.5,"y":-1.36},{"i":11,"x":2.6,"y":-0.79}]},"mark":{"type":"line","interpolate":"cardinal-closed","color":"#333333","strokeWidth":1.2},"encoding":{"order":{"field":"i"}}},
{"data":{"values":[{"x":-3.5,"y":-10,"y2":10},{"x":3.5,"y":-10,"y2":10}]},"mark":{"type":"rule","strokeDash":[2,2],"color":"#444444","strokeWidth":1},"encoding":{"y2":{"field":"y2"},
"x":{"field":"x","type":"quantitative","scale":{"domain":[-28,15],"nice":false,"zero":false},"axis":{"values":[-27,-26,-24,-23,-22,-21,-19,-18,-17,-16,-14,-13,-12,-11,-9,-8,-7,-6,-4,-3,-2,-1,1,2,3,4,6,7,8,9,11,12,13,14],"domain":false,"grid":false,"labels":false,"title":null,"tickSize":-2.5,"tickColor":"#666666"}},
"y":{"field":"y","type":"quantitative","scale":{"domain":[-10,10.72],"nice":false,"zero":false},"axis":{"values":[-9.5,-9,-8.5,-7.5,-7,-6.5,-5.5,-5,-4.5,-3.5,-3,-2.5,-1.5,-1,-0.5,0.5,1,1.5,2.5,3,3.5,4.5,5,5.5,6.5,7,7.5,8.5,9,9.5],"domain":false,"grid":false,"labels":false,"title":null,"tickSize":-2.5,"tickColor":"#666666"}}}}
]},
{"width":77,"height":10,"data":{"values":[{}]},"mark":{"type":"point","opacity":0},"encoding":{}}
],"bounds":"flush","spacing":0},
{"width":960,"height":369,"view":{"stroke":null},"encoding":{"x":{"field":"x","type":"quantitative","axis":null,"scale":{"domain":[0,960],"nice":false,"zero":false}},"y":{"field":"y","type":"quantitative","axis":null,"scale":{"domain":[720,351],"nice":false,"zero":false}},"text":{"field":"t"}},
"layer":[
{"data":{"values":[{"x":170,"y":638,"t":"Dispersion D = 0.08 m"},{"x":467,"y":638,"t":"D=0.7m"},{"x":760,"y":638,"t":"D=1.5m"}]},"mark":{"type":"text","align":"center","baseline":"middle","fontSize":18.5,"fill":"#000000"}},
{"data":{"values":[{"x":475,"y":686,"t":"Leading diffractive protons seen at different detector locations (β* = 0.5m)"}]},"mark":{"type":"text","align":"center","baseline":"middle","font":"Open Sans","fontSize":24.8,"fill":"#e0103c"}},
{"data":{"values":[{"x":57,"y":706,"t":"K.Eggert/CERN"}]},"mark":{"type":"text","align":"center","baseline":"middle","fontSize":13,"fill":"#222222"}}
]}
]}
